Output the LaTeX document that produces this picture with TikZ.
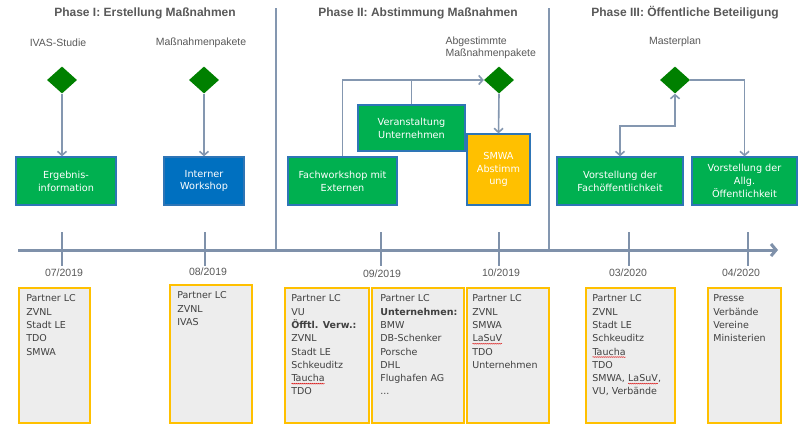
\documentclass[tikz,border=0pt]{standalone}
\usepackage{fontspec}
\setmainfont{Liberation Sans}
\newfontfamily\boxfont{DejaVu Sans}
\usetikzlibrary{arrows.meta,shapes.geometric,decorations.pathmorphing}
\definecolor{tgray}{HTML}{595959}
\definecolor{linecol}{HTML}{8497B0}
\definecolor{axiscol}{HTML}{7F91AA}
\definecolor{dgreen}{HTML}{008000}
\definecolor{ggreen}{HTML}{00B050}
\definecolor{bblue}{HTML}{0070C0}
\definecolor{bborder}{HTML}{2E75B6}
\definecolor{syellow}{HTML}{FFC000}
\definecolor{pgray}{HTML}{EDEDED}
\definecolor{btext}{HTML}{404040}
\newcommand\wavy[1]{\tikz[baseline=(W.base)]{\node[inner sep=0pt,outer sep=0pt,anchor=base west] (W) at (0,0) {#1};\draw[red!85!black,line width=0.4pt,decorate,decoration={snake,amplitude=0.5pt,segment length=2pt}]([yshift=-2pt]W.base west)--([yshift=-2pt]W.base east);}}
\tikzset{
  conn/.style={draw=linecol, line width=1.6pt, -{Straight Barb[length=4pt,width=9pt]}},
  conn2/.style={draw=linecol, line width=1.6pt, {Straight Barb[length=4pt,width=9pt]}-{Straight Barb[length=4pt,width=9pt]}},
  plainline/.style={draw=linecol, line width=1.6pt},
  divider/.style={draw=linecol, line width=1.4pt},
  tickline/.style={draw=axiscol, line width=1.6pt},
  dia/.style={diamond, fill=dgreen, draw=none, minimum width=30pt, minimum height=27pt, inner sep=0pt},
  gbox/.style={draw=bborder, line width=1.3pt, fill=ggreen, text=white, align=center, inner sep=2pt,
    font=\boxfont\fontsize{9.7}{12.8}\selectfont},
  pbox/.style={draw=syellow, line width=1.8pt, fill=pgray},
  ptext/.style={anchor=north west, inner sep=0pt, text=btext, align=left,
    font=\boxfont\fontsize{9.5}{13.3}\selectfont},
  phasetitle/.style={text=tgray, font=\bfseries\fontsize{12}{14}\selectfont},
  lbl/.style={text=tgray, font=\fontsize{10.5}{12}\selectfont},
  datelbl/.style={text=tgray, font=\fontsize{10.5}{12}\selectfont},
}
\begin{document}
\begin{tikzpicture}[x=1pt,y=-1pt]
\useasboundingbox (0,0) rectangle (800,432);
\fill[white] (0,0) rectangle (800,432);

% phase titles
\node[phasetitle] (ph1) at (145,13) {Phase I: Erstellung Maßnahmen};
\node[phasetitle] (ph2) at (418,13) {Phase II: Abstimmung Maßnahmen};
\node[phasetitle] (ph3) at (685,13) {Phase III: Öffentliche Beteiligung};

% dividers
\coordinate (dv1a) at (276,8); \coordinate (dv1b) at (276,250);
\coordinate (dv2a) at (549,8); \coordinate (dv2b) at (549,250);
\draw[divider] (dv1a) -- (dv1b);
\draw[divider] (dv2a) -- (dv2b);

% milestone labels
\node[lbl] (l1) at (58,43) {IVAS-Studie};
\node[lbl] (l2) at (201,43) {Maßnahmenpakete};
\node[lbl, anchor=west, align=left, font=\fontsize{10.5}{12}\selectfont] (l3) at (442,48) {Abgestimmte\\Maßnahmenpakete};
\node[lbl] (l4) at (675,42) {Masterplan};

% diamonds
\node[dia] (d1) at (62,80) {};
\node[dia] (d2) at (204,80) {};
\node[dia] (d3) at (499,80) {};
\node[dia] (d4) at (675,80) {};

% activity boxes
\node[gbox, minimum width=100pt, minimum height=48pt] (erg) at (66,181) {Ergebnis-\\information};
\node[gbox, fill=bblue, minimum width=80pt, minimum height=48pt] (iw) at (204,181) {Interner\\Workshop};
\node[gbox, minimum width=107pt, minimum height=46pt] (ver) at (411.5,128) {Veranstaltung\\Unternehmen};
\node[gbox, minimum width=109pt, minimum height=48pt] (fach) at (342.5,181) {Fachworkshop mit\\Externen};
\node[gbox, fill=syellow, minimum width=63pt, minimum height=71pt] (smwa) at (498.5,169.5) {SMWA\\Abstimm\\ung};
\node[gbox, minimum width=126pt, minimum height=48pt] (vf) at (620,181) {Vorstellung der\\Fachöffentlichkeit};
\node[gbox, minimum width=105pt, minimum height=48pt] (va) at (744.5,181) {Vorstellung der\\Allg.\\Öffentlichkeit};

% connectors
\draw[conn] (d1.south) -- (d1.south |- erg.north);
\draw[conn] (d2.south) -- (iw.north);
\draw[conn] (fach.north) |- (d3.west);
\draw[plainline] (ver.north) -- (ver.north |- d3.west);
\draw[conn] (d3.south) -- (smwa.north);
\coordinate (m1) at (675,126);
\draw[conn2] (vf.north) |- (m1) -- (d4.south);
\draw[conn] (d4.east) -| (va.north);

% timeline
\coordinate (ax0) at (18,250);
\coordinate (ax1) at (778,250);
\draw[draw=axiscol, line width=3pt, -{Straight Barb[length=5pt,width=12pt]}] (ax0) -- (ax1);
\foreach \n/\x in {1/62,2/205,3/381,4/499,5/629,6/748}{
  \coordinate (ta\n) at (\x,232); \coordinate (tb\n) at (\x,266);
  \draw[tickline] (ta\n) -- (tb\n);
}

% dates
\node[datelbl] (dt1) at (64,273) {07/2019};
\node[datelbl] (dt2) at (208,272) {08/2019};
\node[datelbl] (dt3) at (382,274) {09/2019};
\node[datelbl] (dt4) at (501,273) {10/2019};
\node[datelbl] (dt5) at (628,273) {03/2020};
\node[datelbl] (dt6) at (741,273) {04/2020};

% participant boxes
\node[pbox, minimum width=71pt, minimum height=135pt] (b1) at (54.5,355.5) {};
\node[pbox, minimum width=82pt, minimum height=138pt] (b2) at (211,354) {};
\node[pbox, minimum width=84pt, minimum height=135pt] (b3) at (327,355.5) {};
\node[pbox, minimum width=92pt, minimum height=135pt] (b4) at (418,355.5) {};
\node[pbox, minimum width=82pt, minimum height=135pt] (b5) at (508,355.5) {};
\node[pbox, minimum width=89pt, minimum height=135pt] (b6) at (630.5,355.5) {};
\node[pbox, minimum width=73pt, minimum height=135pt] (b7) at (744.5,355.5) {};

\node[ptext] (p1) at ([shift={(8,7.5)}]b1.north west) {Partner LC\\ZVNL\\Stadt LE\\TDO\\SMWA};
\node[ptext] (p2) at ([shift={(8,7.5)}]b2.north west) {Partner LC\\ZVNL\\IVAS};
\node[ptext] (p3) at ([shift={(7,7.5)}]b3.north west) {Partner LC\\VU\\\textbf{Öfftl. Verw.:}\\ZVNL\\Stadt LE\\Schkeuditz\\\wavy{Taucha}\\TDO};
\node[ptext] (p4) at ([shift={(9,7.5)}]b4.north west) {Partner LC\\\textbf{Unternehmen:}\\BMW\\DB-Schenker\\Porsche\\DHL\\Flughafen AG\\...};
\node[ptext] (p5) at ([shift={(6,7.5)}]b5.north west) {Partner LC\\ZVNL\\SMWA\\\wavy{LaSuV}\\TDO\\Unternehmen};
\node[ptext] (p6) at ([shift={(7,7.5)}]b6.north west) {Partner LC\\ZVNL\\Stadt LE\\Schkeuditz\\\wavy{Taucha}\\TDO\\SMWA, \wavy{LaSuV},\\VU, Verbände};
\node[ptext] (p7) at ([shift={(6,7.5)}]b7.north west) {Presse\\Verbände\\Vereine\\Ministerien};
\end{tikzpicture}
\end{document}
